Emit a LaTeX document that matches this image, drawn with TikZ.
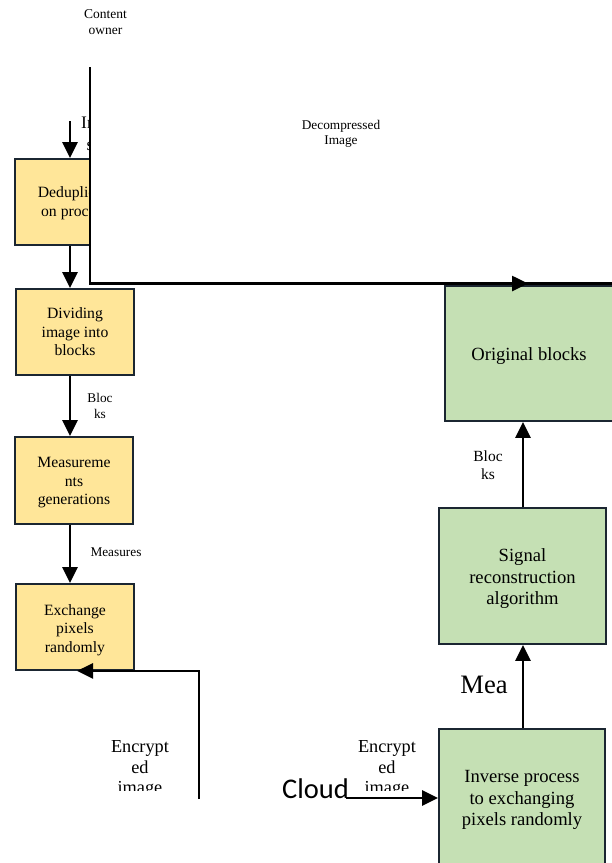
\documentclass[tikz,border=0pt]{standalone}
\usepackage{fontspec}
\setmainfont{Liberation Serif}
\newfontfamily\calibrifont{Carlito}
\usetikzlibrary{arrows.meta,calc}
\definecolor{yel}{HTML}{FFE699}
\definecolor{grn}{HTML}{C5E0B4}
\definecolor{boxedge}{HTML}{1B2631}
\newcommand{\lift}[1]{\rule{0pt}{#1}}
\tikzset{
  boxL/.style={draw=boxedge, line width=1.8pt, fill=yel, minimum width=118pt, minimum height=86pt,
               inner sep=0pt, align=center, font=\fontsize{15.7}{18.5}\selectfont},
  boxR/.style={draw=boxedge, line width=1.8pt, fill=grn, inner sep=0pt, align=center,
               font=\fontsize{18.6}{21.5}\selectfont},
  arr/.style={line width=2.6pt, -{Triangle[width=15pt,length=16pt]}},
  lbl/.style={inner sep=0pt, align=center},
  small/.style={font=\fontsize{13.3}{15.5}\selectfont},
  mid/.style={font=\fontsize{18.3}{20.5}\selectfont},
}
\begin{document}
\begin{tikzpicture}[x=1pt,y=-1pt]
\useasboundingbox (0,0) rectangle (612,863);
\clip (0,0) rectangle (612,863);

% top label
\node[lbl, font=\fontsize{13.5}{15.5}\selectfont] (owner) at (105.5,22) {Content\\owner};

% left column
\coordinate (inp) at (70,121);
\node[boxL, minimum width=119pt] (dedup) at (74.5,202) {\lift{13pt}Deduplicati\\on process};
\node[lbl, anchor=north west, align=left, font=\fontsize{17.6}{22}\selectfont] (inlbl) at (81,117) {Input\\\hspace*{5.5pt}s};
\draw[arr] (inp) -- (inp |- dedup.north);

\node[boxL] (divide) at (75,332) {Dividing\\image into\\blocks};
\draw[arr] (dedup.south -| inp) -- (divide.north -| inp);

\node[boxL, minimum height=87pt] (meas) at (74,480.5) {\lift{15pt}Measureme\\nts\\generations};
\draw[arr] (divide.south -| inp) -- (meas.north -| inp);
\node[lbl, small] (blk1) at (100,406) {Bloc\\ks};

\node[boxL] (exch) at (75,627) {\lift{16.5pt}Exchange\\pixels\\randomly};
\draw[arr] (meas.south -| inp) -- (exch.north -| inp);
\node[lbl, small, anchor=base] (measlbl) at (116,556) {Measures};

% return arrow from below
\coordinate (ret) at (199,799);
\draw[arr] (ret) |- ([xshift=2pt]exch.south);
\begin{scope}
  \clip (100,720) rectangle (190,790);
  \node[lbl, mid] (enc1) at (140,769) {Encrypt\\ed\\image};
\end{scope}

% right column
\node[boxR, minimum width=168pt, minimum height=135pt] (orig) at (529,353.5) {\lift{18.7pt}Original blocks};
\node[boxR, minimum width=167pt, minimum height=136pt] (signal) at (522.5,576) {\lift{18.7pt}Signal\\reconstruction\\algorithm};
\node[boxR, minimum width=166pt, minimum height=140pt] (inverse) at (522,799) {\lift{14pt}Inverse process\\to exchanging\\pixels randomly};
\coordinate (rx) at (523,0);
\draw[arr] (inverse.north -| rx) -- (signal.south -| rx);
\draw[arr] (signal.north -| rx) -- (orig.south -| rx);
\node[lbl, font=\fontsize{15.5}{18}\selectfont] (blk2) at (488,465) {Bloc\\ks};
\node[lbl, anchor=base, font=\fontsize{26.6}{30}\selectfont] (mea) at (484,693) {Mea};

\begin{scope}
  \clip (340,720) rectangle (436,790);
  \node[lbl, mid] (enc2) at (387,769) {Encrypt\\ed\\image};
\end{scope}
\node[lbl, anchor=base west, font=\calibrifont\fontsize{28.5}{30}\selectfont] (cloud) at (282,798) {Cloud};
\coordinate (cl) at (346,798);
\draw[arr] (cl) -- (cl -| inverse.west);

% white cover and decompressed-image line
\fill[white] (90,67) rectangle (640,283);
\coordinate (top) at (90,67);
\coordinate (corner) at (90,283.5);
\coordinate (tip) at (528,283.5);
\draw[line width=2.6pt] (top) -- (corner) -- (corner -| 640,0);
\draw[arr] (corner) -- (tip);
\node[lbl, small] (decomp) at (341,134) {Decompressed\\Image};
\end{tikzpicture}
\end{document}
